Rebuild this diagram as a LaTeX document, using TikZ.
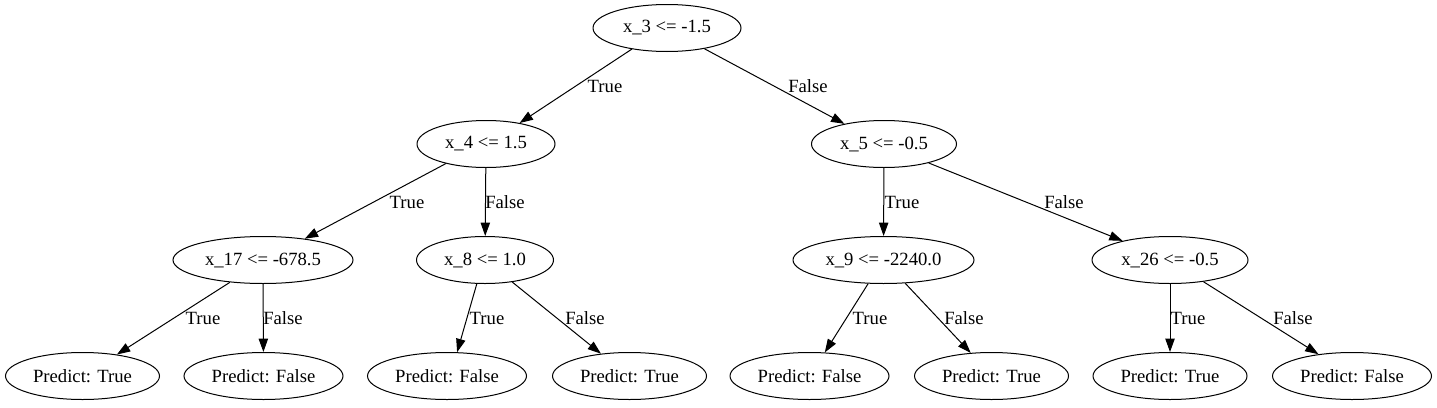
\documentclass[tikz,border=0pt]{standalone}
\usepackage{fontspec}
\setmainfont{Liberation Serif}
\usetikzlibrary{shapes.geometric,arrows.meta}
\tikzset{
  tnode/.style={ellipse, draw, line width=0.75pt, minimum height=35.25pt, inner sep=0pt, font=\fontsize{14pt}{16pt}\selectfont},
  tleaf/.style={tnode, minimum width=115.5pt},
  fleaf/.style={tnode, minimum width=119.25pt},
  elabel/.style={inner sep=0pt, font=\fontsize{14pt}{16pt}\selectfont},
  edge/.style={line width=0.75pt, -{Triangle[length=10pt,width=7pt]}}
}
\begin{document}
\begin{tikzpicture}[x=0.75pt,y=-0.75pt]
\useasboundingbox (0,0) rectangle (1437,407);
% internal nodes
\node[tnode, minimum width=111pt] (r) at (667,28) {x\_3 <= -1.5};
\node[tnode, minimum width=103.5pt] (a) at (486,144) {x\_4 <= 1.5};
\node[tnode, minimum width=108.75pt] (b) at (884,144) {x\_5 <= -0.5};
\node[tnode, minimum width=135pt] (c) at (263,260) {x\_17 <= -678.5};
\node[tnode, minimum width=102.75pt] (d) at (485,260) {x\_8 <= 1.0};
\node[tnode, minimum width=135.75pt] (e) at (883.5,260) {x\_9 <= -2240.0};
\node[tnode, minimum width=117pt] (f) at (1170,260) {x\_26 <= -0.5};
% leaves
\node[tleaf] (l1) at (82.5,376) {Predict: True};
\node[fleaf] (l2) at (263.5,376) {Predict: False};
\node[fleaf] (l3) at (447,376) {Predict: False};
\node[tleaf] (l4) at (629.5,376) {Predict: True};
\node[fleaf] (l5) at (809.5,376) {Predict: False};
\node[tleaf] (l6) at (991.5,376) {Predict: True};
\node[tleaf] (l7) at (1170,376) {Predict: True};
\node[fleaf] (l8) at (1352,376) {Predict: False};
% edges
\draw[edge] (r.211) -- (a.32);
\draw[edge] (r.-29) -- (b.153);
\draw[edge] (a.206) -- (c.27);
\draw[edge] (a) -- (d);
\draw[edge] (b) -- (e);
\draw[edge] (b.-23) -- (f.158);
\draw[edge] (c.214) -- (l1.32);
\draw[edge] (c) -- (l2);
\draw[edge] (d.251) -- (l3.67);
\draw[edge] (d.-39) -- (l4.142);
\draw[edge] (e.237) -- (l5.57);
\draw[edge] (e.-47) -- (l6.132);
\draw[edge] (f) -- (l7);
\draw[edge] (f.-33) -- (l8.147.5);
% edge labels
\node[elabel] (t1) at (605,86) {True};
\node[elabel] (t2) at (808,86) {False};
\node[elabel] (t3) at (407,202) {True};
\node[elabel] (t4) at (505,202) {False};
\node[elabel] (t5) at (902,202) {True};
\node[elabel] (t6) at (1064,202) {False};
\node[elabel] (t7) at (203,318) {True};
\node[elabel] (t8) at (283,318) {False};
\node[elabel] (t9) at (487,318) {True};
\node[elabel] (t10) at (585,318) {False};
\node[elabel] (t11) at (870,318) {True};
\node[elabel] (t12) at (964,318) {False};
\node[elabel] (t13) at (1188,318) {True};
\node[elabel] (t14) at (1293,318) {False};
\end{tikzpicture}
\end{document}
